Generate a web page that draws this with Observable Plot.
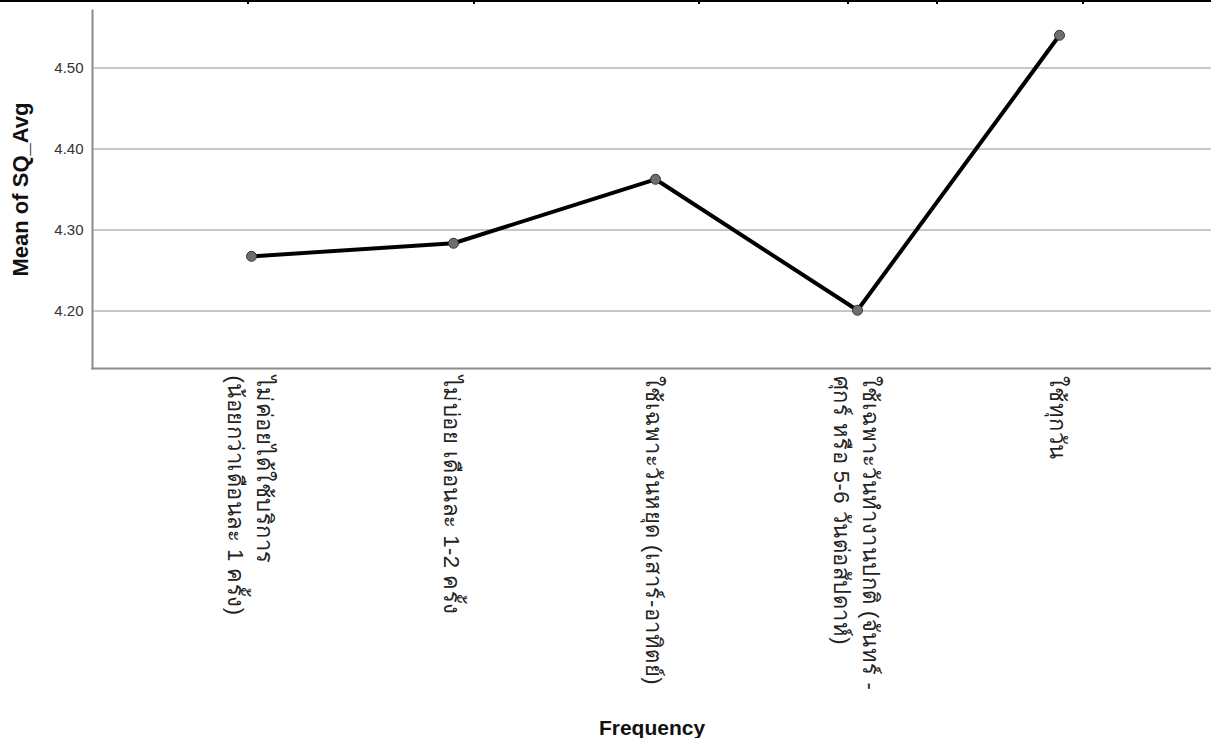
<!DOCTYPE html>
<html>
<head>
<meta charset="utf-8">
<script src="https://cdn.jsdelivr.net/npm/d3@7"></script>
<script src="https://cdn.jsdelivr.net/npm/@observablehq/plot@0.6"></script>
<style>
  html, body { margin: 0; padding: 0; background: white; }
  #wrap { position: relative; width: 1211px; height: 738px; overflow: hidden; }
  #topline { position: absolute; left: 0; top: 0; width: 1211px; height: 2px; background: #000; }
  .tk { position: absolute; top: 0; width: 2px; height: 4px; background: #000; }
  #chart svg g[aria-label="x-axis label"] text { font-size: 21px; font-weight: bold; fill: #111; }
  #chart svg g[aria-label="y-axis label"] text { font-size: 22px; font-weight: bold; fill: #111; }
  #chart svg g[aria-label="x-axis tick label"] text { letter-spacing: 0.5px; }
</style>
</head>
<body>
<div id="wrap">
  <div id="chart"></div>
  <div id="topline"></div>
</div>
<script>
const categories = [
  "ไม่ค่อยได้ใช้บริการ\n(น้อยกว่าเดือนละ 1 ครั้ง)",
  "ไม่บ่อย เดือนละ 1-2 ครั้ง",
  "ใช้เฉพาะวันหยุด (เสาร์-อาทิตย์)",
  "ใช้เฉพาะวันทำงานปกติ (จันทร์ -\nศุกร์ หรือ 5-6 วันต่อสัปดาห์)",
  "ใช้ทุกวัน"
];
const means = [4.2675, 4.2836, 4.3626, 4.2009, 4.5404];
const yTicks = [4.20, 4.30, 4.40, 4.50];
const yDomain = [4.129, 4.571];
const xTitle = "Frequency";
const yTitle = "Mean of SQ_Avg";
const topTicks = [247, 473, 698, 847, 936, 1082];

const data = categories.map((c, i) => ({cat: c, mean: means[i]}));

const chart = Plot.plot({
  width: 1211,
  height: 738,
  marginLeft: 92,
  marginRight: 0,
  marginTop: 10,
  marginBottom: 370,
  style: {fontFamily: "'Liberation Sans', Arial, sans-serif", background: "white", color: "#222"},
  x: {type: "point", domain: categories, padding: 0, insetLeft: 157, insetRight: 151},
  y: {domain: yDomain},
  marks: [
    Plot.gridY(yTicks, {stroke: "#c8c8c8", strokeOpacity: 1, strokeWidth: 2}),
    Plot.frame({anchor: "left", stroke: "#8a8a8a", strokeWidth: 2}),
    Plot.frame({anchor: "bottom", stroke: "#8a8a8a", strokeWidth: 2}),
    Plot.axisY(yTicks, {
      tickFormat: d3.format(".2f"), tickSize: 0, tickPadding: 9, fontSize: 15, fill: "#333",
      label: yTitle, labelAnchor: "center", labelArrow: "none", labelOffset: 80
    }),
    Plot.axisX({
      tickRotate: 90, tickSize: 0, tickPadding: 7, fontSize: 22, lineHeight: 1.3, fill: "#222",
      label: xTitle, labelAnchor: "center", labelArrow: "none", labelOffset: 366
    }),
    Plot.line(data, {x: "cat", y: "mean", stroke: "#000", strokeWidth: 4}),
    Plot.dot(data, {x: "cat", y: "mean", r: 5, fill: "#6e6e6e", stroke: "#333", strokeWidth: 1})
  ]
});
document.getElementById("chart").appendChild(chart);

const wrap = document.getElementById("wrap");
for (const t of topTicks) {
  const d = document.createElement("div");
  d.className = "tk";
  d.style.left = t + "px";
  wrap.appendChild(d);
}
</script>
</body>
</html>
